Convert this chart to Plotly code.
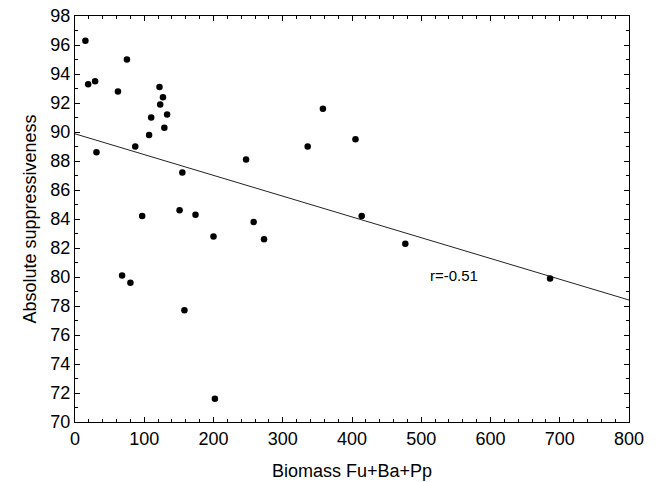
import numpy as np
import plotly.graph_objects as go

# biomass (Fu+Ba+Pp) vs absolute suppressiveness
biomass = [15, 19, 29, 31, 62, 75, 87, 107, 110, 122, 123, 127, 129, 133, 155, 247,
           97, 151, 174, 200, 258, 273, 68, 80, 158, 202,
           336, 358, 405, 414, 477, 686]
suppress = [96.3, 93.3, 93.5, 88.6, 92.8, 95.0, 89.0, 89.8, 91.0, 93.1, 91.9, 92.4, 90.3, 91.2, 87.2, 88.1,
            84.2, 84.6, 84.3, 82.8, 83.8, 82.6, 80.1, 79.6, 77.7, 71.6,
            89.0, 91.6, 89.5, 84.2, 82.3, 79.9]
fit_x = [0, 800]
r_label = "r=-0.51"

slope, icept = np.polyfit(biomass, suppress, 1)
fit_y = [icept + slope * v for v in fit_x]

FONT = "Liberation Sans, Arial, sans-serif"

fig = go.Figure()
fig.add_trace(go.Scatter(x=fit_x, y=fit_y, mode="lines",
                         line=dict(color="#222222", width=1), showlegend=False))
fig.add_trace(go.Scatter(x=biomass, y=suppress, mode="markers",
                         marker=dict(color="black", size=6.5), showlegend=False))
fig.add_annotation(x=548, y=80.1, text=r_label, showarrow=False,
                   font=dict(size=15, color="black", family=FONT))

axis = dict(showline=True, linecolor="black", linewidth=1, mirror="allticks",
            ticks="inside", ticklen=5, tickcolor="black", showgrid=False, zeroline=False,
            automargin=False, tickfont=dict(size=18, color="black", family=FONT))
fig.update_xaxes(range=[0, 800], dtick=100, minor=dict(dtick=20, ticks="inside", ticklen=3, tickcolor="black"),
                 title=dict(text="Biomass Fu+Ba+Pp", font=dict(size=18, color="black", family=FONT), standoff=16),
                 **axis)
fig.update_yaxes(range=[70, 98], dtick=2, minor=dict(dtick=1, ticks="inside", ticklen=3, tickcolor="black"),
                 title=dict(text="Absolute suppressiveness", font=dict(size=18, color="black", family=FONT), standoff=9),
                 **axis)
fig.update_layout(width=657, height=482, margin=dict(l=75, r=28, t=16, b=60),
                  paper_bgcolor="white", plot_bgcolor="white")
# drop the default 8px body margin so the figure sits at the page corner
fig.write_html("out.html", config={"displayModeBar": False},
               post_script="document.body.style.margin='0';")
